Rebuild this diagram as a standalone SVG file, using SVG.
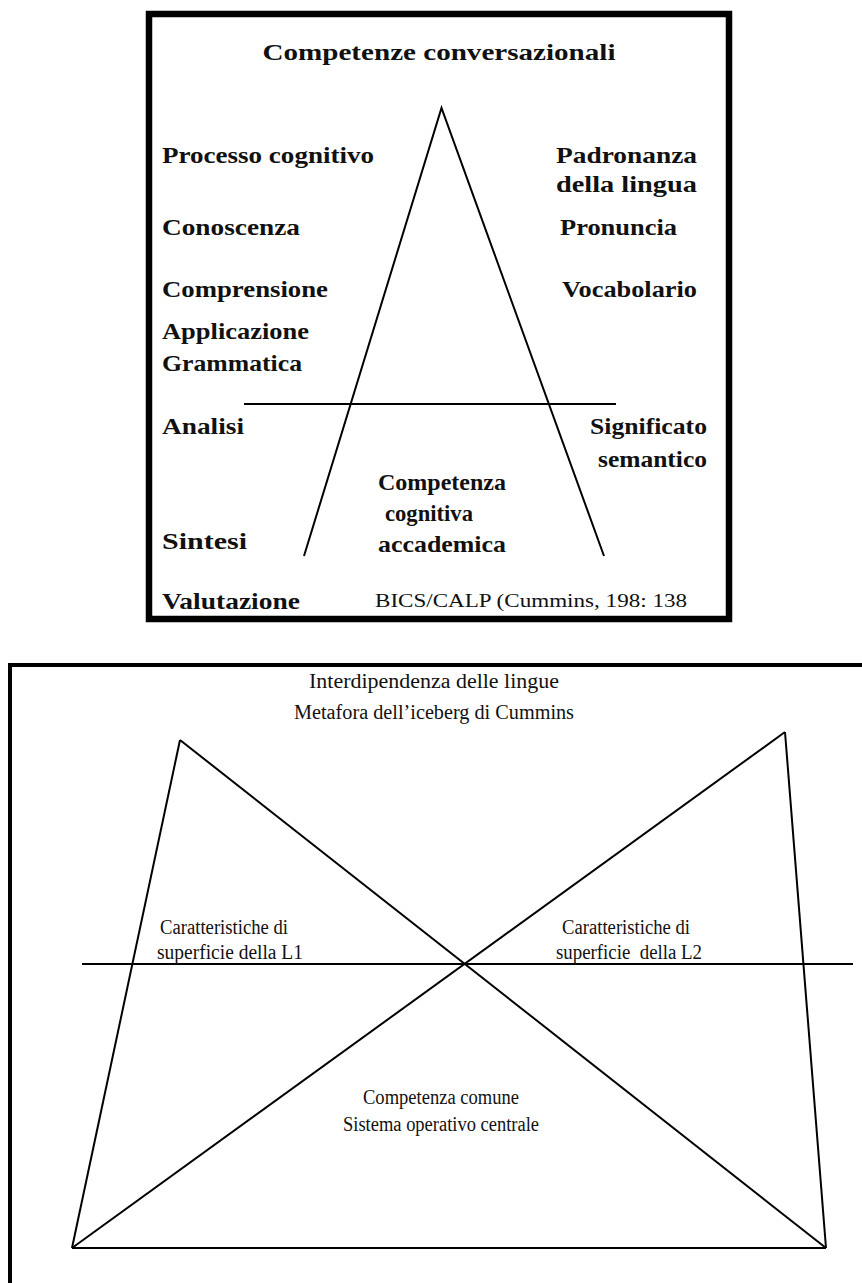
<svg xmlns="http://www.w3.org/2000/svg" width="862" height="1283" viewBox="0 0 862 1283">
<style>
.b{font-family:"Liberation Serif",serif;font-weight:bold;font-size:23px;fill:#111}
.r{font-family:"Liberation Serif",serif;font-size:20px;fill:#111}
.s{font-family:"Liberation Serif",serif;font-size:19px;fill:#111}
.ln{stroke:#000;stroke-width:2;fill:none}
</style>
<rect width="862" height="1283" fill="#fff"/>
<g id="top-frame">
<rect x="149" y="14" width="580" height="605" fill="none" stroke="#000" stroke-width="6.5"/>
</g>
<g id="top-connectors">
<polyline class="ln" points="304,556 441.5,108 604,556"/>
<line class="ln" x1="244" y1="404" x2="616" y2="404" stroke-width="1.5"/>
</g>
<g id="top-title"><text class="b" x="439" y="60" text-anchor="middle" textLength="353" lengthAdjust="spacingAndGlyphs">Competenze conversazionali</text></g>
<g id="processo"><text class="b" x="162" y="163" textLength="212" lengthAdjust="spacingAndGlyphs">Processo cognitivo</text></g>
<g id="padronanza"><text class="b" x="556" y="163" textLength="141" lengthAdjust="spacingAndGlyphs">Padronanza</text><text class="b" x="556" y="192" textLength="141" lengthAdjust="spacingAndGlyphs">della lingua</text></g>
<g id="conoscenza"><text class="b" x="162" y="235" textLength="138" lengthAdjust="spacingAndGlyphs">Conoscenza</text></g>
<g id="pronuncia"><text class="b" x="560" y="235" textLength="117" lengthAdjust="spacingAndGlyphs">Pronuncia</text></g>
<g id="comprensione"><text class="b" x="162" y="297" textLength="166" lengthAdjust="spacingAndGlyphs">Comprensione</text></g>
<g id="vocabolario"><text class="b" x="562" y="297" textLength="135" lengthAdjust="spacingAndGlyphs">Vocabolario</text></g>
<g id="applicazione"><text class="b" x="162" y="339" textLength="147" lengthAdjust="spacingAndGlyphs">Applicazione</text><text class="b" x="162" y="371" textLength="140" lengthAdjust="spacingAndGlyphs">Grammatica</text></g>
<g id="analisi"><text class="b" x="162" y="434" textLength="82" lengthAdjust="spacingAndGlyphs">Analisi</text></g>
<g id="significato"><text class="b" x="590" y="434" textLength="117" lengthAdjust="spacingAndGlyphs">Significato</text><text class="b" x="598" y="467" textLength="109" lengthAdjust="spacingAndGlyphs">semantico</text></g>
<g id="competenza"><text class="b" x="378" y="490" textLength="128" lengthAdjust="spacingAndGlyphs">Competenza</text><text class="b" x="385" y="521" textLength="88" lengthAdjust="spacingAndGlyphs">cognitiva</text><text class="b" x="378" y="552" textLength="128" lengthAdjust="spacingAndGlyphs">accademica</text></g>
<g id="sintesi"><text class="b" x="162" y="549" textLength="85" lengthAdjust="spacingAndGlyphs">Sintesi</text></g>
<g id="valutazione"><text class="b" x="162" y="609" textLength="138" lengthAdjust="spacingAndGlyphs">Valutazione</text></g>
<g id="citation"><text class="s" x="375" y="607" textLength="312" lengthAdjust="spacingAndGlyphs">BICS/CALP (Cummins, 198: 138</text></g>

<g id="bottom-frame">
<polyline points="10,1283 10,665 862,665" fill="none" stroke="#000" stroke-width="4"/>
</g>
<g id="bottom-connectors">
<line class="ln" x1="180" y1="740" x2="72" y2="1248"/>
<line class="ln" x1="785" y1="732" x2="826" y2="1248"/>
<line class="ln" x1="72" y1="1248" x2="826" y2="1248"/>
<line class="ln" x1="180" y1="740" x2="826" y2="1248"/>
<line class="ln" x1="785" y1="732" x2="72" y2="1248"/>
<line class="ln" x1="82" y1="964" x2="853" y2="964"/>
</g>
<g id="bottom-title"><text class="r" x="434" y="688" text-anchor="middle" textLength="250" lengthAdjust="spacingAndGlyphs">Interdipendenza delle lingue</text><text class="r" x="434" y="719" text-anchor="middle" textLength="280" lengthAdjust="spacingAndGlyphs">Metafora dell’iceberg di Cummins</text></g>
<g id="l1"><text class="r" x="160" y="934" textLength="128" lengthAdjust="spacingAndGlyphs">Caratteristiche di</text><text class="r" x="157" y="959" textLength="146" lengthAdjust="spacingAndGlyphs">superficie della L1</text></g>
<g id="l2"><text class="r" x="562" y="934" textLength="128" lengthAdjust="spacingAndGlyphs">Caratteristiche di</text><text class="r" x="556" y="959" textLength="146" lengthAdjust="spacingAndGlyphs" xml:space="preserve">superficie  della L2</text></g>
<g id="common"><text class="r" x="441" y="1104" text-anchor="middle" textLength="156" lengthAdjust="spacingAndGlyphs">Competenza comune</text><text class="r" x="441" y="1131" text-anchor="middle" textLength="196" lengthAdjust="spacingAndGlyphs">Sistema operativo centrale</text></g>
</svg>
